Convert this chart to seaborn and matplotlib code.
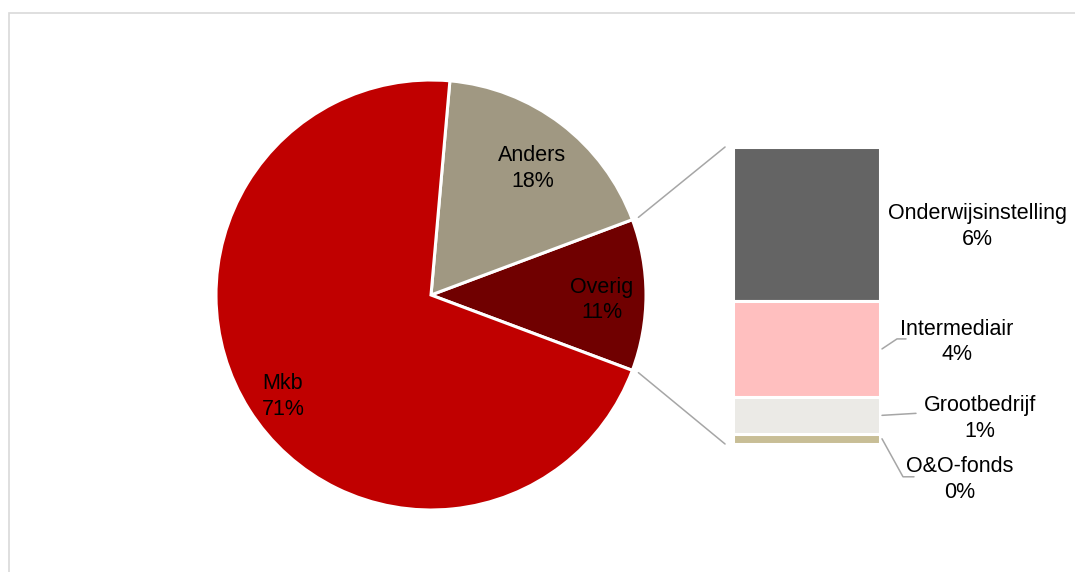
import numpy as np
import matplotlib
matplotlib.use("Agg")
import matplotlib.pyplot as plt
import seaborn as sns
from matplotlib.patches import ConnectionPatch, Rectangle

# Main pie: share per category (%)
main_labels = ["Mkb", "Anders", "Overig"]
main_values = [70.7, 17.9, 11.4]
main_colors = ["#C00000", "#A09882", "#700000"]

# Breakdown of "Overig" (%)
sub_labels = ["Onderwijsinstelling", "Intermediair", "Grootbedrijf", "O&O-fonds"]
sub_values = [5.9, 3.7, 1.4, 0.4]
sub_colors = ["#646464", "#FFBFBF", "#EBEAE6", "#C8BE96"]

sns.set_theme(style="white")
plt.rcParams["font.family"] = ["Liberation Sans", "DejaVu Sans"]

FS = 15.5
LS = 1.3
LINE = "#A6A6A6"

fig = plt.figure(figsize=(10.75, 5.72), dpi=100)
fig.patch.set_facecolor("white")

# ---- pie ----
ax_pie = fig.add_axes([216 / 1075, 62 / 572, 430 / 1075, 430 / 572])
order = [2, 1, 0]  # Overig first, going counterclockwise
start = -main_values[2] * 3.6 / 2
wedges, _ = ax_pie.pie([main_values[i] for i in order],
                       colors=[main_colors[i] for i in order],
                       startangle=start, counterclock=True,
                       wedgeprops=dict(edgecolor="white", linewidth=2.2))
ax_pie.set_xlim(-1, 1)
ax_pie.set_ylim(-1, 1)

# (radius, angle shift from wedge middle) for each label
label_place = {"Mkb": (0.836, 2.3), "Anders": (0.755, -1.4), "Overig": (0.796, -1.7)}
for w, i in zip(wedges, order):
    r, shift = label_place[main_labels[i]]
    mid = np.deg2rad((w.theta1 + w.theta2) / 2 + shift)
    ax_pie.text(r * np.cos(mid), r * np.sin(mid),
                f"{main_labels[i]}\n{main_values[i]:.0f}%",
                ha="center", va="center", fontsize=FS, color="black",
                linespacing=LS)

# ---- stacked bar for the breakdown ----
ax_bar = fig.add_axes([733 / 1075, 128 / 572, 147 / 1075, 297 / 572])
total = sum(sub_values)
bottoms = [sum(sub_values[k + 1:]) for k in range(len(sub_values))]
for v, b, c in zip(sub_values, bottoms, sub_colors):
    ax_bar.bar(0, v, bottom=b, width=1, color=c, edgecolor="white", linewidth=2.2)
ax_bar.set_xlim(-0.5, 0.5)
ax_bar.set_ylim(0, total)
ax_bar.axis("off")

px_x = 1 / 147
px_y = total / 297

# label positions: (x in bar units, y offset in pixels), leader line points in pixels
label_pos = [(1.16, -3), (1.024, 7), (1.18, -3), (1.044, -41)]
leaders = [None,
           [(2, 0), (17, 10), (26, 10)],
           [(2, 0), (36, 2)],
           [(2, 0), (23, -38), (34, -38)]]

for lab, v, b, (lx, dy), lead in zip(sub_labels, sub_values, bottoms, label_pos, leaders):
    mid = b + v / 2
    ax_bar.text(lx, mid + dy * px_y, f"{lab}\n{v:.0f}%", ha="center", va="center",
                fontsize=FS, color="black", linespacing=LS)
    if lead:
        xs = [0.5 + p[0] * px_x for p in lead]
        ys = [mid + p[1] * px_y for p in lead]
        ax_bar.plot(xs, ys, color=LINE, lw=1.1, clip_on=False)

# connector lines pie -> bar
for theta, yb in [(wedges[0].theta2, total), (wedges[0].theta1, 0)]:
    t = np.deg2rad(theta)
    con = ConnectionPatch(xyA=(1.03 * np.cos(t), 1.03 * np.sin(t)), coordsA=ax_pie.transData,
                          xyB=(-0.554, yb), coordsB=ax_bar.transData,
                          color=LINE, lw=1.1)
    fig.add_artist(con)

# light frame around the chart area
fig.patches.append(Rectangle((9 / 1075, -0.05), 1.2, 1 - 13 / 572 + 0.05,
                             transform=fig.transFigure, fill=False,
                             edgecolor="#D9D9D9", lw=1.2))

fig.savefig("out.png", dpi=100)
